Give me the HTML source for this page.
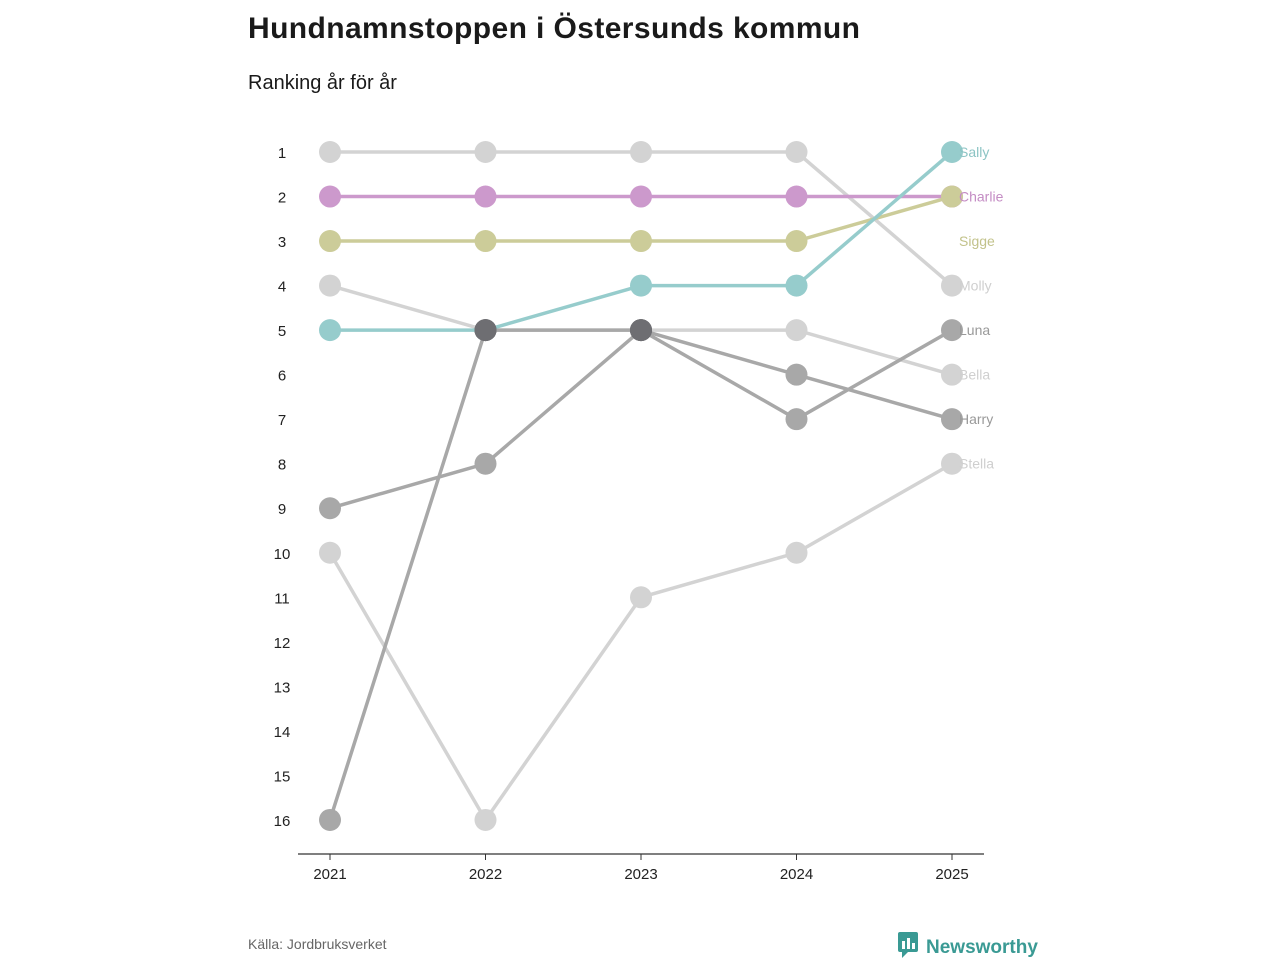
<!DOCTYPE html>
<html><head><meta charset="utf-8">
<style>
body{margin:0;background:#fff;font-family:"Liberation Sans",sans-serif;}
#wrap{position:relative;width:1280px;height:960px;}
h1{position:absolute;left:248px;top:12px;margin:0;font-size:30px;font-weight:bold;color:#1a1a1a;letter-spacing:0.4px;}
.sub{position:absolute;left:248px;top:72px;font-size:20px;color:#1a1a1a;}
.src{position:absolute;left:248px;top:936px;font-size:14px;color:#666;}
.logo{position:absolute;left:898px;top:932px;font-size:19px;font-weight:bold;color:#3a9a94;}
svg{position:absolute;left:0;top:0;}
</style></head><body>
<div id="wrap">
<h1>Hundnamnstoppen i Östersunds kommun</h1>
<div class="sub">Ranking år för år</div>
<div class="src">Källa: Jordbruksverket</div>
<div class="logo"><svg width="22" height="26" style="position:relative;vertical-align:-5px;margin-right:6px" viewBox="0 0 22 26"><rect x="0" y="0" width="20" height="20" rx="2" fill="#3a9a94"/><polygon points="4,20 10,20 4,26" fill="#3a9a94"/><rect x="4" y="9" width="3" height="8" fill="#fff"/><rect x="9" y="6" width="3" height="11" fill="#fff"/><rect x="14" y="11" width="3" height="6" fill="#fff"/></svg>Newsworthy</div>
<svg id="chart" width="1280" height="960"></svg>
</div>
<script>
const years=["2021","2022","2023","2024","2025"];
const rankTicks=[1,2,3,4,5,6,7,8,9,10,11,12,13,14,15,16];
const seriesNames=["Molly","Bella","Stella","Luna","Harry","Charlie","Sigge","Sally"];
const molly=[1,1,1,1,4];
const bella=[4,5,5,5,6];
const stella=[10,16,11,10,8];
const luna=[16,5,5,7,5];
const harry=[9,8,5,6,7];
const charlie=[2,2,2,2,2];
const sigge=[3,3,3,3,2];
const sally=[5,5,4,4,1];
const labelRanks=[4,6,8,5,7,2,3,1];
const colors=["#d3d3d3","#d3d3d3","#d3d3d3","#a8a8a8","#a8a8a8","#cc99cc","#cccc99","#96cccc"];
const labelColors=["#cfcfcf","#cfcfcf","#cfcfcf","#999","#999","#c48cc4","#c2c28a","#8cc4c4"];
const allSeries=[molly,bella,stella,luna,harry,charlie,sigge,sally];
const NS="http://www.w3.org/2000/svg";
const svg=document.getElementById('chart');
const x=i=>330+i*155.5;
const y=r=>152+(r-1)*44.53;
function mk(tag,attrs){const e=document.createElementNS(NS,tag);for(const k in attrs)e.setAttribute(k,attrs[k]);svg.appendChild(e);return e;}
const ax=mk('line',{x1:298,x2:984,y1:854,y2:854,stroke:'#333','stroke-width':1.2});


years.forEach((yr,i)=>{
 const tk=mk('line',{x1:x(i),x2:x(i),y1:854,y2:860,stroke:'#333'});
 
 
 const t=mk('text',{x:x(i),y:879,'text-anchor':'middle','font-size':15,fill:'#222'});
 t.textContent=yr;
 
 
});
rankTicks.forEach(r=>{
 const t=mk('text',{x:282,y:y(r)+6,'text-anchor':'middle','font-size':15,fill:'#222'});
 t.textContent=r;
 
 
});
allSeries.forEach((s,k)=>{
 const p=mk('polyline',{points:s.map((r,i)=>x(i)+','+y(r)).join(' '),fill:'none',stroke:colors[k],'stroke-width':3.5});
 
 
});
allSeries.forEach((s,k)=>{
 s.forEach((r,i)=>{
  const n=allSeries.filter(o=>o[i]===r).length;
  const c=mk('circle',{cx:x(i),cy:y(r),r:11,fill:n>=3?'#6e6e72':colors[k]});
  
  
 });
});
allSeries.forEach((s,k)=>{
 const t=mk('text',{x:959,y:y(labelRanks[k])+5,'font-size':14,fill:labelColors[k]});
 t.textContent=seriesNames[k];
 
 
});
</script>
</body></html>
